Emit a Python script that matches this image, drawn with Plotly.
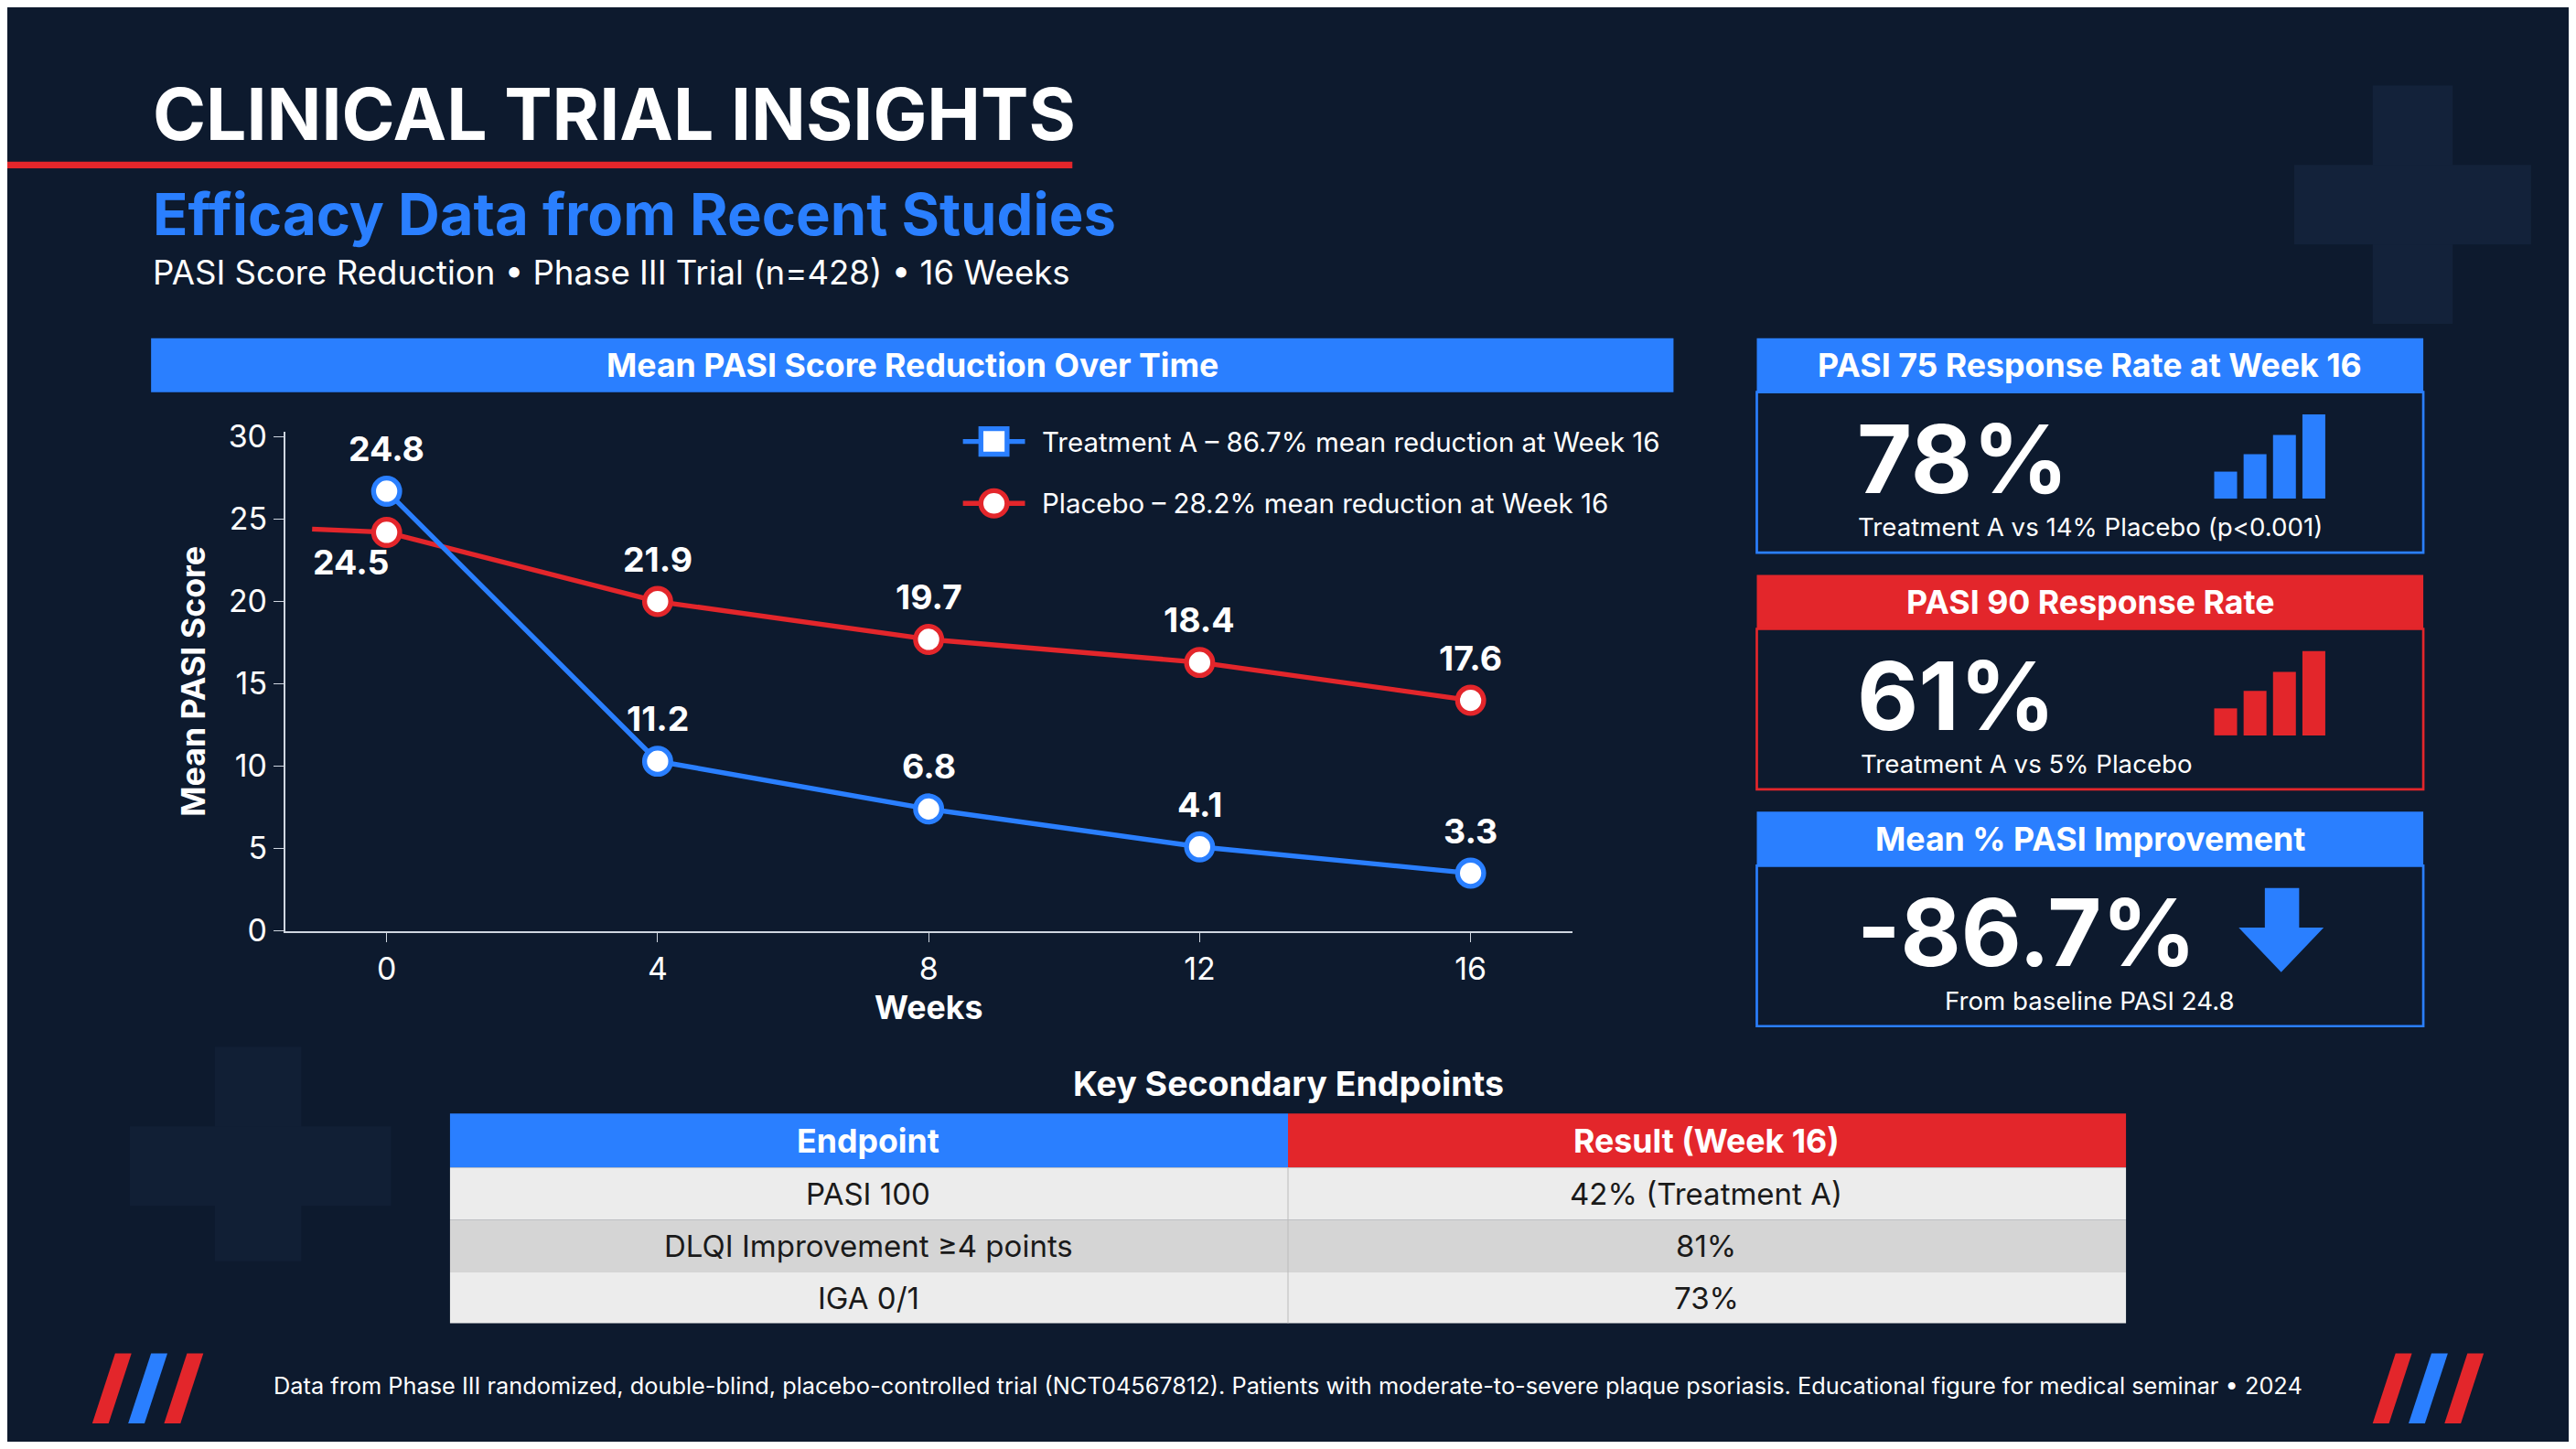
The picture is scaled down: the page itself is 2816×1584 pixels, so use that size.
import plotly.graph_objects as go

W, H = 2800, 1568
S = W / 1568.0
def px(x): return x / 1568.0
def py(y): return 1 - y / 882.0
def fs(v): return v * S

BG = "#0d1a2e"; BLUE = "#2a7fff"; RED = "#e3262b"; WHITE = "#ffffff"

weeks = [0, 4, 8, 12, 16]
treat_vals = [26.7, 10.3, 7.4, 5.1, 3.5]
treat_labels = ["24.8", "11.2", "6.8", "4.1", "3.3"]
placebo_x = [-1.1, 0, 4, 8, 12, 16]
placebo_vals = [24.4, 24.2, 20.0, 17.7, 16.3, 14.0]
placebo_labels = ["24.5", "21.9", "19.7", "18.4", "17.6"]

table_header = ["Endpoint", "Result (Week 16)"]
table_col1 = ["PASI 100", "DLQI Improvement ≥4 points", "IGA 0/1"]
table_col2 = ["42% (Treatment A)", "81%", "73%"]

fig = go.Figure()
fig.add_trace(go.Scatter(x=placebo_x, y=placebo_vals, mode="lines", line=dict(color=RED, width=fs(3)), hoverinfo="skip"))
fig.add_trace(go.Scatter(x=weeks, y=placebo_vals[1:], mode="markers",
    marker=dict(color=WHITE, size=fs(16), line=dict(color=RED, width=fs(3)))))
fig.add_trace(go.Scatter(x=weeks, y=treat_vals, mode="lines+markers", line=dict(color=BLUE, width=fs(3)),
    marker=dict(color=WHITE, size=fs(16), line=dict(color=BLUE, width=fs(3)))))

ann = []; shp = []
def text(x, y, t, size, color=WHITE, bold=False, xanchor="left", font="Inter"):
    ann.append(dict(x=px(x), y=py(y), xref="paper", yref="paper", text=f"<b>{t}</b>" if bold else t,
        showarrow=False, xanchor=xanchor, yanchor="middle", font=dict(size=fs(size), color=color, family=font)))
def rect(x0, y0, x1, y1, fill, line=None, lw=0):
    shp.append(dict(type="rect", xref="paper", yref="paper", x0=px(x0), x1=px(x1), y0=py(y1), y1=py(y0),
        fillcolor=fill, line=dict(color=line or fill, width=lw), layer="below"))

rect(1448, 40, 1497, 190, "#13223a"); rect(1400, 90, 1545, 140, "#13223a")
rect(127, 645, 180, 780, "#111f35"); rect(75, 695, 235, 745, "#111f35")

text(88, 58, "CLINICAL TRIAL INSIGHTS", 44, bold=True)
shp.append(dict(type="line", xref="paper", yref="paper", x0=0, x1=px(652), y0=py(90), y1=py(90), line=dict(color=RED, width=fs(4))))
text(88, 121, "Efficacy Data from Recent Studies", 35.5, BLUE, bold=True)
text(88, 158, "PASI Score Reduction • Phase III Trial (n=428) • 16 Weeks", 20.5)

rect(88, 199, 1020, 233, BLUE)
text(554, 216, "Mean PASI Score Reduction Over Time", 20, bold=True, xanchor="center")

for w, v, l in zip(weeks, treat_vals, treat_labels):
    ann.append(dict(x=w, y=v, text=f"<b>{l}</b>", showarrow=False, yshift=fs(26), xshift=0,
        font=dict(size=fs(21), color=WHITE, family="Inter")))
for i, (w, v, l) in enumerate(zip(weeks, placebo_vals[1:], placebo_labels)):
    ann.append(dict(x=w, y=v, text=f"<b>{l}</b>", showarrow=False, yshift=-fs(18) if i == 0 else fs(26),
        xshift=-fs(22) if i == 0 else 0, font=dict(size=fs(21), color=WHITE, family="Inter")))

for yy, col, sym, lab in [(264, BLUE, "square", "Treatment A – 86.7% mean reduction at Week 16"),
                          (303, RED, "circle", "Placebo – 28.2% mean reduction at Week 16")]:
    shp.append(dict(type="line", xref="paper", yref="paper", x0=px(585), x1=px(623), y0=py(yy), y1=py(yy), line=dict(color=col, width=fs(3))))
    kind = "rect" if sym == "square" else "circle"
    shp.append(dict(type=kind, xref="paper", yref="paper", x0=px(596), x1=px(612), y0=py(yy+8), y1=py(yy-8), fillcolor=WHITE, line=dict(color=col, width=fs(3))))
    text(632, yy, lab, 16.5)

def card(y0, col, title, big, bigsize):
    rect(1071, y0, 1479, y0+34, col)
    rect(1071, y0+34, 1479, y0+135, BG, col, fs(1.5))
    text(1275, y0+17, title, 20, bold=True, xanchor="center")
    text(1131, y0+76, big, bigsize, bold=True)
card(199, BLUE, "PASI 75 Response Rate at Week 16", "78%", 58)
text(1275, 318, "Treatment A vs 14% Placebo (p&lt;0.001)", 15.5, xanchor="center")
card(348, RED, "PASI 90 Response Rate", "61%", 58)
text(1236, 467, "Treatment A vs 5% Placebo", 15.5, xanchor="center")
card(497, BLUE, "Mean % PASI Improvement", "-86.7%", 57)
text(1275, 616, "From baseline PASI 24.8", 15.5, xanchor="center")
for bottom, col in [(300, BLUE), (449, RED)]:
    for i, h in enumerate([17, 28, 40, 53]):
        x0 = 1351 + i*18
        rect(x0, bottom-h, x0+14, bottom, col)
shp.append(dict(type="path", xref="paper", yref="paper", fillcolor=BLUE, line=dict(width=0),
    path=f"M {px(1382)},{py(545)} L {px(1403)},{py(545)} L {px(1403)},{py(570)} L {px(1418)},{py(570)} "
         f"L {px(1392)},{py(598)} L {px(1366)},{py(570)} L {px(1382)},{py(570)} Z"))

text(784, 668, "Key Secondary Endpoints", 21, bold=True, xanchor="center")
rect(271, 687, 784, 721, BLUE); rect(784, 687, 1297, 721, RED)
text(527, 704, table_header[0], 20, bold=True, xanchor="center")
text(1040, 704, table_header[1], 20, bold=True, xanchor="center")
rows = [(721, 754, "#ececec"), (754, 787, "#d5d5d5"), (787, 819, "#ececec")]
for (a, b, c), t1, t2 in zip(rows, table_col1, table_col2):
    rect(271, a, 1297, b, c)
    text(527, (a+b)/2, t1, 18.5, "#1a1a1a", xanchor="center")
    text(1040, (a+b)/2, t2, 18.5, "#1a1a1a", xanchor="center")
shp.append(dict(type="line", xref="paper", yref="paper", x0=px(784), x1=px(784), y0=py(819), y1=py(721), line=dict(color="#bbbbbb", width=1)))

text(784, 858, "Data from Phase III randomized, double-blind, placebo-controlled trial (NCT04567812). Patients with moderate-to-severe plaque psoriasis. Educational figure for medical seminar • 2024", 14.2, xanchor="center")

def slash(x, col):
    shp.append(dict(type="path", xref="paper", yref="paper", fillcolor=col, line=dict(width=0),
        path=f"M {px(x+14)},{py(838)} L {px(x+24)},{py(838)} L {px(x+10)},{py(882)} L {px(x)},{py(882)} Z"))
for x0 in (52, 1448):
    slash(x0, RED); slash(x0+22, BLUE); slash(x0+44, RED)

fig.update_layout(width=W, height=H, paper_bgcolor=BG, plot_bgcolor=BG, showlegend=False,
    margin=dict(l=0, r=0, t=0, b=0), annotations=ann, shapes=shp,
    xaxis=dict(domain=[px(170), px(958)], range=[-1.5, 17.5], tickvals=weeks, showgrid=False, zeroline=False,
        showline=True, linecolor="#cfd6e0", linewidth=fs(1.2), ticks="outside", ticklen=fs(6), tickcolor="#cfd6e0",
        tickfont=dict(size=fs(19), color=WHITE, family="Inter"),
        title=dict(text="<b>Weeks</b>", font=dict(size=fs(20), color=WHITE, family="Inter"), standoff=fs(4))),
    yaxis=dict(domain=[py(572), py(258)], range=[0, 30.3], tickvals=[0, 5, 10, 15, 20, 25, 30], showgrid=False, zeroline=False,
        showline=True, linecolor="#cfd6e0", linewidth=fs(1.2), ticks="outside", ticklen=fs(6), tickcolor="#cfd6e0",
        tickfont=dict(size=fs(19), color=WHITE, family="Inter"),
        title=dict(text="<b>Mean PASI Score</b>", font=dict(size=fs(20), color=WHITE, family="Inter"), standoff=fs(8))))
fig.write_html("out.html")
